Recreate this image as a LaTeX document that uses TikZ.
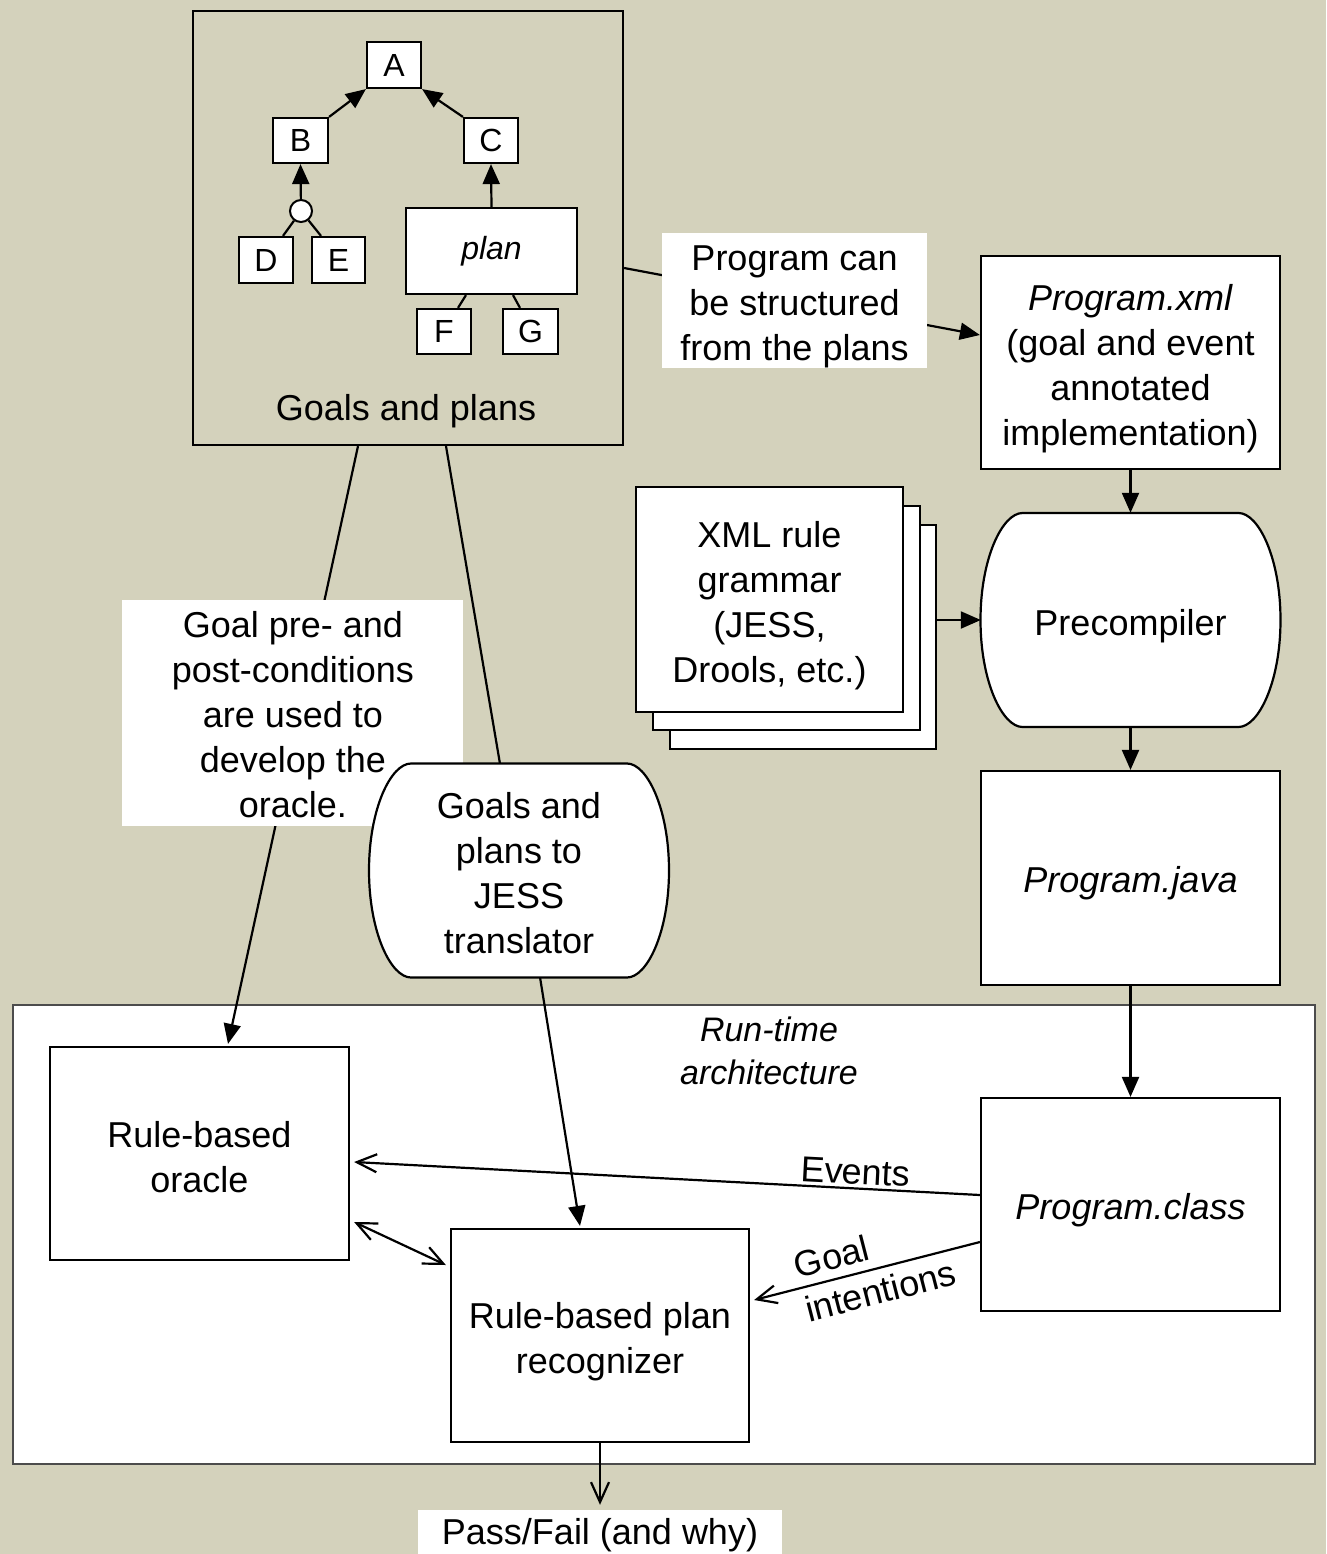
\documentclass[tikz,border=0pt]{standalone}
\usepackage{fontspec}
\setmainfont{Liberation Sans}
\usetikzlibrary{arrows.meta}
\definecolor{bgc}{RGB}{212,210,188}
\newcommand\myfs{\fontsize{36}{45}\selectfont}
\newcommand\mytreefs{\fontsize{32}{38}\selectfont}
\newcommand\barrelshape[2]{\draw[line width=2.2pt, fill=white, shift={(#1,#2)}]
  (-108,-107) -- (108,-107) .. controls (128,-107) and (150,-62) .. (150,0)
  .. controls (150,62) and (128,107) .. (108,107) -- (-108,107)
  .. controls (-128,107) and (-150,62) .. (-150,0)
  .. controls (-150,-62) and (-128,-107) .. (-108,-107) -- cycle;}
\tikzset{
  ln/.style={line width=2.2pt},
  fbox/.style={draw, fill=white, line width=2.2pt, inner sep=0pt},
  tbox/.style={draw, fill=white, line width=2.2pt, inner sep=0pt, font=\mytreefs},
  lbl/.style={fill=white, inner sep=0pt},
  intext/.style={font=\myfs, align=center, inner sep=0pt},
  solidtip/.style={-{Triangle[length=20pt,width=17pt]}},
  opentip/.style={-{Straight Barb[length=20pt,width=18pt]}},
}
\begin{document}
\begin{tikzpicture}[x=1pt,y=-1pt]
\useasboundingbox (0,0) rectangle (1326,1554);
\fill[bgc] (0,0) rectangle (1326,1554);

% Goals and plans box
\node[draw, line width=2.2pt, minimum width=430pt, minimum height=434pt, inner sep=0pt] (goals) at (408,228) {};
\node[font=\myfs, inner sep=0pt] (goalslbl) at (406,411) {Goals and plans};

% tree
\node[tbox, minimum width=54pt, minimum height=46pt] (A) at (394,65) {A};
\node[tbox, minimum width=55pt, minimum height=45pt] (B) at (300.5,140.5) {B};
\node[tbox, minimum width=54pt, minimum height=45pt] (C) at (491,140.5) {C};
\node[tbox, minimum width=54pt, minimum height=46pt] (D) at (266,260) {D};
\node[tbox, minimum width=53pt, minimum height=46pt] (E) at (338.5,260) {E};
\node[tbox, minimum width=171pt, minimum height=86pt, font=\mytreefs\itshape] (plan) at (491.5,251) {plan};
\node[tbox, minimum width=54pt, minimum height=45pt] (F) at (444,331.5) {F};
\node[tbox, minimum width=55pt, minimum height=45pt] (G) at (530.5,331.5) {G};
\node[draw, fill=white, circle, line width=2pt, minimum size=22pt, inner sep=0pt] (circ) at (301,211) {};

\draw[ln, solidtip] (B.north east) -- (A.south west);
\draw[ln, solidtip] (C.north west) -- (A.south east);
\draw[ln, solidtip] (circ) -- (B.south);
\draw[ln] (circ) -- ([xshift=17pt]D.north);
\draw[ln] (circ) -- ([xshift=-17.5pt]E.north);
\draw[ln, solidtip] (plan.north) -- (C.south);
\draw[ln] ([xshift=-25.5pt]plan.south) -- ([xshift=14pt]F.north);
\draw[ln] ([xshift=21.5pt]plan.south) -- ([xshift=-10.5pt]G.north);

% right column
\node[fbox, minimum width=299pt, minimum height=213pt,
  label={[intext, yshift=-6pt]center:{\textit{Program.xml}\\(goal and event\\annotated\\implementation)}}] (xml) at (1130.5,362.5) {};
\barrelshape{1130.5}{620}
\node[inner sep=0pt, minimum width=299pt, minimum height=214pt,
  label={[intext, yshift=-6pt]center:Precompiler}] (pre) at (1130.5,620) {};

\node[draw, fill=white, line width=2pt, minimum width=266pt, minimum height=224pt, inner sep=0pt] (stack3) at (803,637) {};
\node[draw, fill=white, line width=2pt, minimum width=267pt, minimum height=224pt, inner sep=0pt] (stack2) at (786.5,618) {};
\node[draw, fill=white, line width=2pt, minimum width=267pt, minimum height=225pt, inner sep=0pt,
  label={[intext, yshift=-6pt]center:{XML rule\\grammar\\(JESS,\\Drools, etc.)}}] (stack1) at (769.5,599.5) {};

\node[fbox, minimum width=299pt, minimum height=214pt,
  label={[intext, font=\myfs\itshape, yshift=-5pt]center:Program.java}] (java) at (1130.5,878) {};

% run-time architecture
\node[draw=black!70, fill=white, line width=1.5pt, minimum width=1302pt, minimum height=459pt, inner sep=0pt] (rt) at (664,1234.5) {};
\node[font=\itshape\fontsize{34}{43}\selectfont, align=center, inner sep=0pt] (rtl) at (769,1051) {Run-time\\architecture};
\node[fbox, minimum width=299pt, minimum height=213pt,
  label={[intext, font=\myfs\itshape, yshift=-6pt]center:Program.class}] (class) at (1130.5,1204.5) {};
\node[fbox, minimum width=299pt, minimum height=213pt,
  label={[intext, yshift=-4pt]center:{Rule-based\\oracle}}] (oracle) at (199.5,1153.5) {};
\node[fbox, minimum width=298pt, minimum height=213pt,
  label={[intext, yshift=-6pt]center:{Rule-based plan\\recognizer}}] (recog) at (600,1335.5) {};
\node[lbl, minimum width=364pt, minimum height=44pt,
  label={[intext, yshift=-3pt]center:{Pass/Fail (and why)}}] (pass) at (600,1532) {};

% connectors
\draw[ln, solidtip] ([yshift=-40pt]goals.east) -- node[lbl, pos=0.479, minimum width=265pt, minimum height=135pt,
  label={[intext, yshift=-7pt]center:{Program can\\be structured\\from the plans}}] (progcan) {} ([yshift=27.5pt]xml.west);
\draw[ln, solidtip] (xml.south) -- (pre.north);
\draw[ln, solidtip] (stack3.east |- pre.west) -- (pre.west);
\draw[ln, solidtip] (pre.south) -- (java.north);
\draw[ln, solidtip] (java.south) -- (class.north);

\draw[ln, solidtip] ([xshift=-50pt]goals.south) -- node[lbl, pos=0.447, xshift=-7pt, minimum width=341pt, minimum height=226pt,
  label={[intext, yshift=-1pt]center:{Goal pre- and\\post-conditions\\are used to\\develop the\\oracle.}}] (goalpre) {} ([xshift=28.5pt,yshift=2pt]oracle.north);

\barrelshape{519}{870.5}
\node[inner sep=0pt, minimum width=298pt, minimum height=213pt,
  label={[intext, yshift=-3pt]center:{Goals and\\plans to\\JESS\\translator}}] (trans) at (519,870.5) {};

\draw[ln] ([xshift=38pt]goals.south) -- ([xshift=-19pt]trans.north);
\draw[ln, solidtip] ([xshift=21pt]trans.south) -- ([xshift=-20pt,yshift=2pt]recog.north);

\draw[ln, opentip] ([yshift=9.5pt]class.west) -- node[pos=0.2, sloped, above, inner sep=3pt, font=\myfs] {Events} ([xshift=4pt,yshift=-8.5pt]oracle.east);
\draw[ln, opentip] ([yshift=-37.5pt]class.west) -- node[pos=0.465, sloped, align=left, inner sep=0pt, font=\myfs] {Goal\\intentions} ([xshift=4pt,yshift=35.5pt]recog.east);
\draw[ln, {Straight Barb[length=20pt,width=18pt]}-{Straight Barb[length=20pt,width=18pt]}] ([xshift=4pt,yshift=-68.5pt]oracle.east) -- ([xshift=-4pt,yshift=70.5pt]recog.west);
\draw[ln, opentip] (recog.south) -- ([yshift=5pt]pass.north);
\end{tikzpicture}
\end{document}
